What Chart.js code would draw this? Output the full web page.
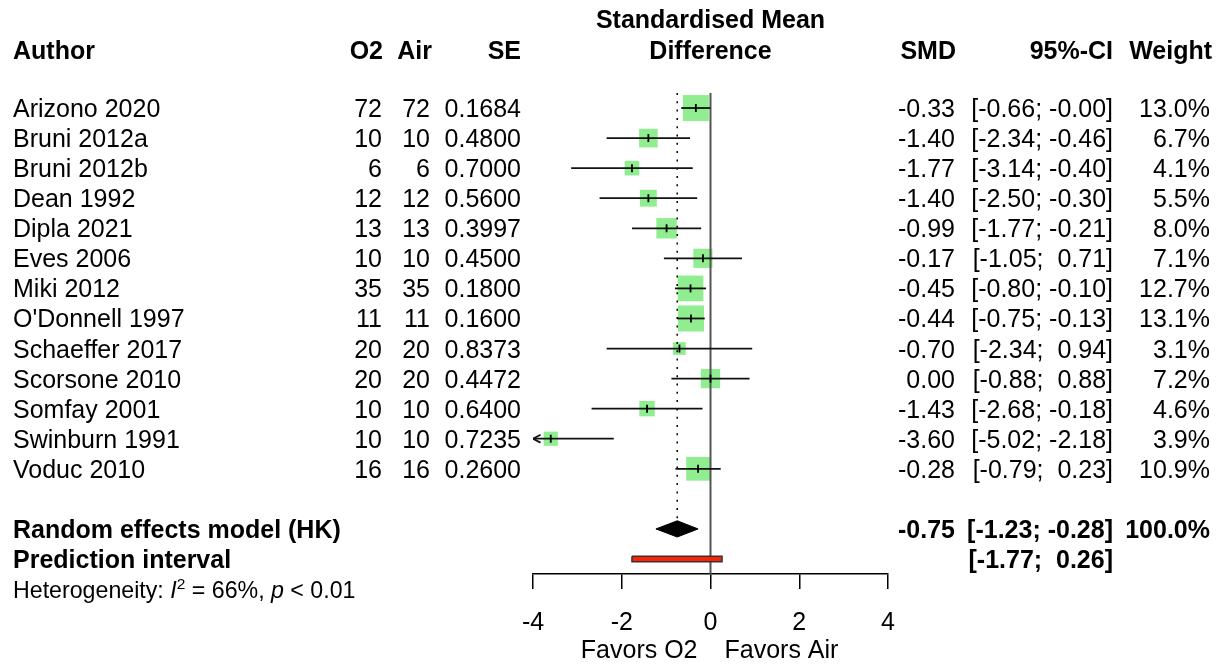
<!DOCTYPE html>
<html>
<head>
<meta charset="utf-8">
<script src="https://cdn.jsdelivr.net/npm/chart.js@4.4.1/dist/chart.umd.min.js"></script>
<style>
  body { margin: 0; background: #fff; }
</style>
</head>
<body>
<canvas id="forest" width="1219" height="664"></canvas>
<script>
'use strict';

// study data
let authors = ['Arizono 2020','Bruni 2012a','Bruni 2012b','Dean 1992','Dipla 2021','Eves 2006','Miki 2012',"O'Donnell 1997",'Schaeffer 2017','Scorsone 2010','Somfay 2001','Swinburn 1991','Voduc 2010'];
let nO2 = [72, 10, 6, 12, 13, 10, 35, 11, 20, 20, 10, 10, 16];
let nAir = [72, 10, 6, 12, 13, 10, 35, 11, 20, 20, 10, 10, 16];
let seValues = [0.1684, 0.4800, 0.7000, 0.5600, 0.3997, 0.4500, 0.1800, 0.1600, 0.8373, 0.4472, 0.6400, 0.7235, 0.2600];
let smd = [-0.33, -1.40, -1.77, -1.40, -0.99, -0.17, -0.45, -0.44, -0.70, 0.00, -1.43, -3.60, -0.28];
let ciLower = [-0.66, -2.34, -3.14, -2.50, -1.77, -1.05, -0.80, -0.75, -2.34, -0.88, -2.68, -5.02, -0.79];
let ciUpper = [-0.003, -0.46, -0.40, -0.30, -0.21, 0.71, -0.10, -0.13, 0.94, 0.88, -0.18, -2.18, 0.23];
let weights = [13.0, 6.7, 4.1, 5.5, 8.0, 7.1, 12.7, 13.1, 3.1, 7.2, 4.6, 3.9, 10.9];

// pooled results
let pooledSmd = -0.75;
let pooledCi = [-1.23, -0.28];
let predInterval = [-1.77, 0.26];
let i2 = 66;
let pText = '< 0.01';

let xTicks = [-4, -2, 0, 2, 4];

const xMin = -4;
const xMax = 4;
const pooledRow = authors.length + 1;
const predRow = authors.length + 2;
const diamondHalf = 0.27;
const fontFamily = '"Liberation Sans", Arial, Helvetica, sans-serif';

// helper for CI text like R prints it
function fmt(v){
  return (v < 0 ? '' : ' ') + v.toFixed(2);
}
function ciText(lo, hi){
  return '[' + fmt(lo) + '; ' + fmt(hi) + ']';
}

// build the datasets
let datasets = [];

// squares sized by weight (area proportional to weight)
datasets.push({
  data: smd.map((v, i) => ({x: v, y: i})),
  pointStyle: 'rect',
  pointRadius: weights.map(w => 7.2 * Math.sqrt(w) / Math.SQRT2),
  backgroundColor: '#90EE90',
  borderWidth: 0,
  order: 10
});

// confidence interval lines
for(let i=0; i<authors.length; i++){
  datasets.push({
    data: [{x: Math.max(ciLower[i], xMin), y: i}, {x: Math.min(ciUpper[i], xMax), y: i}],
    showLine: true,
    borderColor: '#111',
    borderWidth: 1.8,
    pointRadius: 0,
    order: 5
  });
  if(ciLower[i] < xMin){
    datasets.push({
      data: [{x: xMin + 0.17, y: i - 0.13}, {x: xMin, y: i}, {x: xMin + 0.17, y: i + 0.13}],
      showLine: true,
      borderColor: '#111',
      borderWidth: 1.8,
      pointRadius: 0,
      order: 5
    });
  }
}

// point estimate tick marks
datasets.push({
  data: smd.map((v, i) => ({x: v, y: i})),
  pointStyle: 'line',
  rotation: 90,
  pointRadius: 4,
  borderColor: '#000',
  borderWidth: 1.8,
  order: 1
});

// line of no effect
datasets.push({
  data: [{x: 0, y: -0.5}, {x: 0, y: predRow + 0.5}],
  showLine: true,
  borderColor: '#555',
  borderWidth: 2,
  pointRadius: 0,
  order: 8
});

// dotted line at pooled estimate
datasets.push({
  data: [{x: pooledSmd, y: -0.5}, {x: pooledSmd, y: pooledRow - diamondHalf}],
  showLine: true,
  borderColor: '#000',
  borderWidth: 1.5,
  borderDash: [2, 6.3],
  pointRadius: 0,
  order: 8
});

// diamond for the random effects model
datasets.push({
  data: [
    {x: pooledCi[0], y: pooledRow},
    {x: pooledSmd, y: pooledRow - diamondHalf},
    {x: pooledCi[1], y: pooledRow},
    {x: pooledSmd, y: pooledRow + diamondHalf},
    {x: pooledCi[0], y: pooledRow}
  ],
  showLine: true,
  fill: 'shape',
  backgroundColor: '#000',
  borderColor: '#000',
  borderWidth: 1,
  pointRadius: 0,
  order: 2
});

// prediction interval bar
datasets.push({
  data: [
    {x: predInterval[0], y: predRow - 0.09},
    {x: predInterval[1], y: predRow - 0.09},
    {x: predInterval[1], y: predRow + 0.09},
    {x: predInterval[0], y: predRow + 0.09},
    {x: predInterval[0], y: predRow - 0.09}
  ],
  showLine: true,
  fill: 'shape',
  backgroundColor: '#FF2200',
  borderColor: '#333',
  borderWidth: 1.5,
  pointRadius: 0,
  order: 2
});

// draws all the table text around the plot
const tablePlugin = {
  id: 'forestTable',
  afterDraw(chart){
    const ctx = chart.ctx;
    const xs = chart.scales.x;
    const ys = chart.scales.y;
    const x0 = xs.getPixelForValue(0);

    function put(str, px, py, align, bold, size){
      ctx.font = (bold ? 'bold ' : '') + (size || 25) + 'px ' + fontFamily;
      ctx.textAlign = align;
      ctx.fillText(str, px, py);
    }

    ctx.save();
    ctx.fillStyle = '#000';
    ctx.textBaseline = 'alphabetic';

    // header
    let hy = ys.getPixelForValue(-2) + 11;
    put('Author', 13, hy, 'left', true);
    put('O2', 383, hy, 'right', true);
    put('Air', 432, hy, 'right', true);
    put('SE', 521, hy, 'right', true);
    put('Standardised Mean', x0, ys.getPixelForValue(-3) + 10, 'center', true);
    put('Difference', x0, hy, 'center', true);
    put('SMD', 956, hy, 'right', true);
    put('95%-CI', 1113, hy, 'right', true);
    put('Weight', 1212, hy, 'right', true);

    // studies
    for(let i=0; i<authors.length; i++){
      let py = ys.getPixelForValue(i) + 9;
      put(authors[i], 13, py, 'left');
      put(String(nO2[i]), 382, py, 'right');
      put(String(nAir[i]), 430, py, 'right');
      put(seValues[i].toFixed(4), 521, py, 'right');
      put(smd[i].toFixed(2), 955, py, 'right');
      put(ciText(ciLower[i], ciUpper[i]), 1113, py, 'right');
      put(weights[i].toFixed(1) + '%', 1210, py, 'right');
    }

    // pooled rows
    let sumW = weights.reduce((a, b) => a + b, 0);
    let py = ys.getPixelForValue(pooledRow) + 9;
    put('Random effects model (HK)', 13, py, 'left', true);
    put(pooledSmd.toFixed(2), 955, py, 'right', true);
    put(ciText(pooledCi[0], pooledCi[1]), 1113, py, 'right', true);
    put(Math.round(sumW).toFixed(1) + '%', 1210, py, 'right', true);
    py = ys.getPixelForValue(predRow) + 9;
    put('Prediction interval', 13, py, 'left', true);
    put(ciText(predInterval[0], predInterval[1]), 1113, py, 'right', true);

    // heterogeneity line
    let hx = 13;
    let hty = ys.getPixelForValue(predRow + 1) + 9;
    const parts = [
      ['Heterogeneity: ', '', 23.2, 0],
      ['I', 'italic ', 23.2, 0],
      ['2', '', 15.5, -9.5],
      [' = ' + i2 + '%, ', '', 23.2, 0],
      ['p', 'italic ', 23.2, 0],
      [' ' + pText, '', 23.2, 0]
    ];
    ctx.textAlign = 'left';
    for(const [str, style, size, dy] of parts){
      ctx.font = style + size + 'px ' + fontFamily;
      ctx.fillText(str, hx, hty + dy);
      hx += ctx.measureText(str).width;
    }

    // direction labels
    let fy = chart.chartArea.bottom + 84;
    put('Favors O2', x0 - 13, fy, 'right');
    put('Favors Air', x0 + 14, fy, 'left');
    ctx.restore();
  }
};

const ctx = document.getElementById('forest');
new Chart(ctx, {
  type: 'scatter',
  data: { datasets: datasets },
  options: {
    responsive: false,
    animation: false,
    layout: { padding: { left: 533, right: 331, top: 93, bottom: 0 } },
    plugins: {
      legend: { display: false },
      tooltip: { enabled: false }
    },
    scales: {
      x: {
        type: 'linear',
        min: xMin,
        max: xMax,
        afterBuildTicks: (scale) => { scale.ticks = xTicks.map(v => ({value: v})); },
        afterFit: (scale) => { scale.height = 90; },
        ticks: {
          color: '#000',
          padding: 19,
          font: { family: fontFamily, size: 25 }
        },
        grid: {
          drawOnChartArea: false,
          tickLength: 15,
          color: '#000',
          lineWidth: 1.5
        },
        border: { color: '#000', width: 1.5 }
      },
      y: {
        type: 'linear',
        min: -0.5,
        max: predRow + 0.5,
        reverse: true,
        display: false
      }
    }
  },
  plugins: [tablePlugin]
});
</script>
</body>
</html>
